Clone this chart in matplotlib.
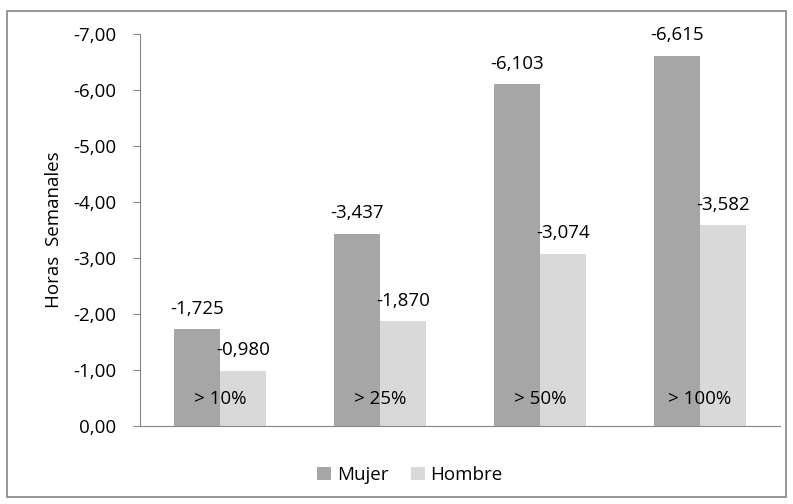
import matplotlib.pyplot as plt
from matplotlib.patches import Rectangle
import numpy as np

categories = ["> 10%", "> 25%", "> 50%", "> 100%"]
mujer = [-1.725, -3.437, -6.103, -6.615]
hombre = [-0.980, -1.870, -3.074, -3.582]
yticks = [0, -1, -2, -3, -4, -5, -6, -7]

plt.rcParams['font.family'] = ['Open Sans', 'DejaVu Sans']
fs = 13.5

fig = plt.figure(figsize=(7.93, 5.04), dpi=100)
ax = fig.add_axes([140/793, 1 - 426/504, 640/793, 392/504])

c_m = '#A6A6A6'
c_h = '#D9D9D9'
w = 0.2875
x = np.arange(len(categories))
ax.bar(x - w/2, mujer, w, color=c_m, label='Mujer')
ax.bar(x + w/2, hombre, w, color=c_h, label='Hombre')

def fmt(v):
    return ('%.3f' % v).replace('.', ',')

for i in range(len(categories)):
    ax.text(x[i] - w/2, mujer[i] - 0.37, fmt(mujer[i]), ha='center', va='center', fontsize=fs)
    ax.text(x[i] + w/2, hombre[i] - 0.37, fmt(hombre[i]), ha='center', va='center', fontsize=fs)
    ax.text(x[i], -0.48, categories[i], ha='center', va='center', fontsize=fs)

ax.set_xlim(-0.5, len(categories) - 0.5)
ax.set_ylim(0, -7)
ax.set_yticks(yticks)
ax.set_yticklabels([('%.2f' % t).replace('.', ',') if t != 0 else '0,00' for t in yticks], fontsize=fs)
ax.set_xticks([])
ax.tick_params(axis='y', length=5, color='#868686', pad=12)
for s in ['top', 'right']:
    ax.spines[s].set_visible(False)
ax.spines['left'].set_color('#868686')
ax.spines['bottom'].set_color('#868686')
ax.set_ylabel('Horas  Semanales', fontsize=13.5)
ax.yaxis.set_label_coords(-0.12, 0.5)

leg = fig.legend(loc='center', bbox_to_anchor=(410/793, 1 - 475/504), ncol=2, frameon=False,
                 fontsize=fs, handlelength=0.75, handleheight=0.75, handletextpad=0.3, columnspacing=1.2)

fig.patches.append(Rectangle((7/793, 7/504), 779/793, 486/504, transform=fig.transFigure,
                             fill=False, edgecolor='#868686', linewidth=1.2))

fig.savefig('out.png', dpi=100)
